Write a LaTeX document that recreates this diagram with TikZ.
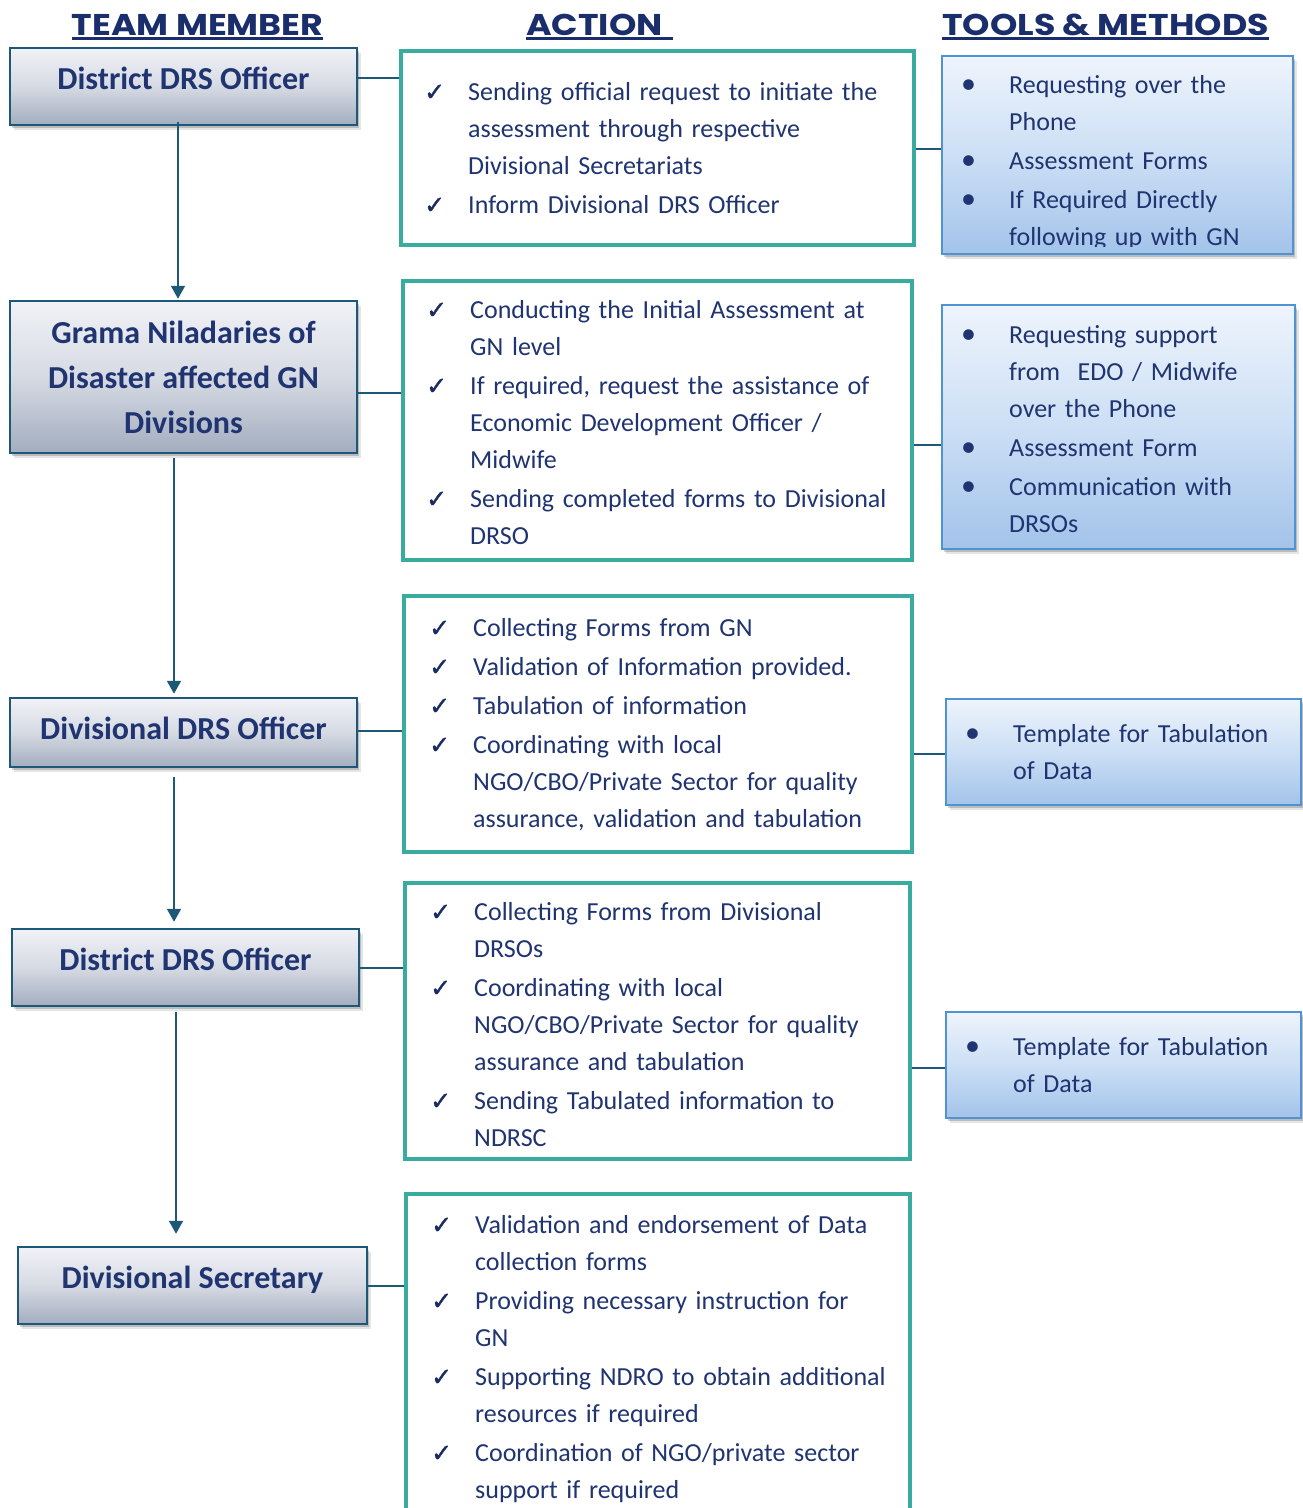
\documentclass[tikz,border=0pt]{standalone}
\usepackage{fontspec}
\setmainfont{Carlito}
\newfontfamily\hdfam[FakeStretch=1.16]{Poppins}
\newfontfamily\dvfam[FakeBold=1.3]{DejaVu Sans}
\usetikzlibrary{shadows,arrows.meta}

\definecolor{navy}{HTML}{1F3470}
\definecolor{cknavy}{HTML}{1A2B62}
\definecolor{hnavy}{HTML}{1B2E6C}
\definecolor{conncol}{HTML}{1E5877}
\definecolor{lbord}{HTML}{1D5878}
\definecolor{ltop}{HTML}{F1F2F7}
\definecolor{lmid}{HTML}{D6DAE3}
\definecolor{lbot}{HTML}{A3ADBF}
\definecolor{tealc}{HTML}{3AAB9F}
\definecolor{tbord}{HTML}{4F93D2}
\definecolor{ttop}{HTML}{EEF4FC}
\definecolor{tmid}{HTML}{CCDFF5}
\definecolor{tbot}{HTML}{A3C3EA}

\newcommand\mbfont{\bfseries\fontsize{32pt}{45pt}\selectfont}
\newcommand\bdfont{\fontsize{26pt}{37pt}\selectfont}
\newcommand\hdfont{\hdfam\bfseries\fontsize{30pt}{36pt}\selectfont}
\newcommand\ckm{{\color{cknavy}\dvfam\fontsize{25pt}{25pt}\selectfont\symbol{"2713}}}
\newcommand\btm{{\fontsize{30pt}{30pt}\selectfont\textbullet}}
\newcommand\ckitem[1]{\par\parskip=2pt\hangindent=44pt\hangafter=1\noindent\makebox[44pt][l]{\ckm}#1\par}
\newcommand\btitem[1]{\par\parskip=2pt\hangindent=48pt\hangafter=1\noindent\makebox[48pt][l]{\btm}#1\par}

\begin{document}
\begin{tikzpicture}[x=1pt,y=-1pt,
  softshadow/.style={drop shadow={shadow xshift=1.5pt,shadow yshift=-2.5pt,opacity=.18,fill=black},
                     drop shadow={shadow xshift=3.5pt,shadow yshift=-5pt,opacity=.10,fill=black}},
  member/.style={softshadow,draw=lbord,line width=2.5pt,top color=ltop,bottom color=lbot,middle color=lmid,
     minimum width=347pt,inner sep=0pt,font=\mbfont,text=navy,align=center},
  action/.style={draw=tealc,line width=4.5pt,fill=white,inner sep=0pt},
  tool/.style={softshadow,draw=tbord,line width=2.5pt,top color=ttop,bottom color=tbot,middle color=tmid,inner sep=0pt},
  txt/.style={anchor=base west,inner sep=0pt,text=navy,font=\bdfont,align=left},
  hd/.style={anchor=base,inner sep=0pt,text=hnavy,font=\hdfont},
  uline/.style={draw=hnavy,line width=2.5pt},
  conn/.style={draw=conncol,line width=2pt},
  arr/.style={conn,-{Triangle[width=14pt,length=13pt]}}]

\useasboundingbox (0,0) rectangle (1303,1508);
\clip (0,0) rectangle (1303,1508);
\fill[white] (0,0) rectangle (1303,1508);

% headers
\node[hd] (h1) at (197.5,35) {TEAM MEMBER};
\draw[uline] ([yshift=-3.5pt]h1.base west) -- ([yshift=-3.5pt]h1.base east);
\node[hd] (h2) at (594.5,35) {ACTION};
\draw[uline] ([yshift=-3.5pt]h2.base west) -- ([xshift=10pt,yshift=-3.5pt]h2.base east);
\node[hd] (h3) at (1105.5,35) {TOOLS \& METHODS};
\draw[uline] ([yshift=-3.5pt]h3.base west) -- ([yshift=-3.5pt]h3.base east);

% team member boxes
\node[member,minimum height=77pt,text height=22pt,text depth=17pt] (b1) at (183.5,86.5) {District DRS Officer};
\node[member,minimum height=152pt] (b2) at (183.5,377) {Grama Niladaries of\\Disaster affected GN\\Divisions};
\node[member,minimum height=69pt,text height=22pt,text depth=9pt] (b3) at (183.5,732.5) {Divisional DRS Officer};
\node[member,minimum height=77pt,text height=22pt,text depth=17pt] (b4) at (185.5,967.5) {District DRS Officer};
\node[member,minimum width=349pt,minimum height=77pt,text height=22pt,text depth=17pt] (b5) at (192.5,1285.5) {Divisional Secretary};

% action boxes
\node[action,minimum width=513pt,minimum height=194pt] (a1) at (657.5,148) {};
\node[action,minimum width=509pt,minimum height=279pt] (a2) at (657.5,420.5) {};
\node[action,minimum width=508pt,minimum height=256pt] (a3) at (658,724) {};
\node[action,minimum width=505pt,minimum height=276pt] (a4) at (657.5,1021) {};
\node[action,minimum width=504pt,minimum height=366pt] (a5) at (658,1377) {};

% tools boxes
\node[tool,minimum width=351pt,minimum height=198pt] (t1) at (1117.5,155) {};
\node[tool,minimum width=353pt,minimum height=244pt] (t2) at (1118.5,427) {};
\node[tool,minimum width=355pt,minimum height=106pt] (t3) at (1123.5,752) {};
\node[tool,minimum width=355pt,minimum height=106pt] (t4) at (1123.5,1065) {};

% connectors
\coordinate (r1) at (0,78);
\coordinate (r2) at (0,393);
\coordinate (r3) at (0,731);
\coordinate (r4) at (0,968);
\coordinate (r5) at (0,1286);
\coordinate (s1) at (0,149);
\coordinate (s2) at (0,445);
\coordinate (s3) at (0,754);
\coordinate (s4) at (0,1068);
\draw[conn] (b1.east |- r1) -- (a1.west |- r1);
\draw[conn] (b2.east |- r2) -- (a2.west |- r2);
\draw[conn] (b3.east |- r3) -- (a3.west |- r3);
\draw[conn] (b4.east |- r4) -- (a4.west |- r4);
\draw[conn] (b5.east |- r5) -- (a5.west |- r5);
\draw[conn] (a1.east |- s1) -- (t1.west |- s1);
\draw[conn] (a2.east |- s2) -- (t2.west |- s2);
\draw[conn] (a3.east |- s3) -- (t3.west |- s3);
\draw[conn] (a4.east |- s4) -- (t4.west |- s4);

\coordinate (v1) at (178,0);
\coordinate (v2) at (174,0);
\coordinate (v3) at (176,0);
\draw[arr,shorten <=-4pt,shorten >=1pt] (b1.south -| v1) -- (b2.north -| v1);
\draw[arr,shorten <=4pt,shorten >=3pt] (b2.south -| v2) -- (b3.north -| v2);
\draw[arr,shorten <=9pt,shorten >=6pt] (b3.south -| v2) -- (b4.north -| v2);
\draw[arr,shorten <=5pt,shorten >=12pt] (b4.south -| v3) -- (b5.north -| v3);

% action texts
\node[txt,text width=480pt] (x1) at (424,61.5) {%
\ckitem{Sending official request to initiate the\newline assessment through respective\newline Divisional Secretariats}%
\ckitem{Inform Divisional DRS Officer}};
\node[txt,text width=480pt] (x2) at (426,279.5) {%
\ckitem{Conducting the Initial Assessment at\newline GN level}%
\ckitem{If required, request the assistance of\newline Economic Development Officer /\newline Midwife}%
\ckitem{Sending completed forms to Divisional\newline DRSO}};
\node[txt,text width=480pt] (x3) at (429,597.5) {%
\ckitem{Collecting Forms from GN}%
\ckitem{Validation of Information provided.}%
\ckitem{Tabulation of information}%
\ckitem{Coordinating with local\newline NGO/CBO/Private Sector for quality\newline assurance, validation and tabulation}};
\node[txt,text width=480pt] (x4) at (430,881.5) {%
\ckitem{Collecting Forms from Divisional\newline DRSOs}%
\ckitem{Coordinating with local\newline NGO/CBO/Private Sector for quality\newline assurance and tabulation}%
\ckitem{Sending Tabulated information to\newline NDRSC}};
\node[txt,text width=480pt] (x5) at (431,1194.5) {%
\ckitem{Validation and endorsement of Data\newline collection forms}%
\ckitem{Providing necessary instruction for\newline GN}%
\ckitem{Supporting NDRO to obtain additional\newline resources if required}%
\ckitem{Coordination of NGO/private sector\newline support if required}};

% tools texts
\begin{scope}
\clip ([yshift=9pt]t1.south west) rectangle (t1.north east);
\node[txt,text width=330pt] (y1) at (961,54.5) {%
\btitem{Requesting over the\newline Phone}%
\btitem{Assessment Forms}%
\btitem{If Required Directly\newline following up with GN}};
\end{scope}
\node[txt,text width=330pt] (y2) at (961,304.5) {%
\btitem{Requesting support\newline from\ \ EDO / Midwife\newline over the Phone}%
\btitem{Assessment Form}%
\btitem{Communication with\newline DRSOs}};
\node[txt,text width=330pt] (y3) at (965,703.5) {%
\btitem{Template for Tabulation\newline of Data}};
\node[txt,text width=330pt] (y4) at (965,1016.5) {%
\btitem{Template for Tabulation\newline of Data}};
\end{tikzpicture}
\end{document}
